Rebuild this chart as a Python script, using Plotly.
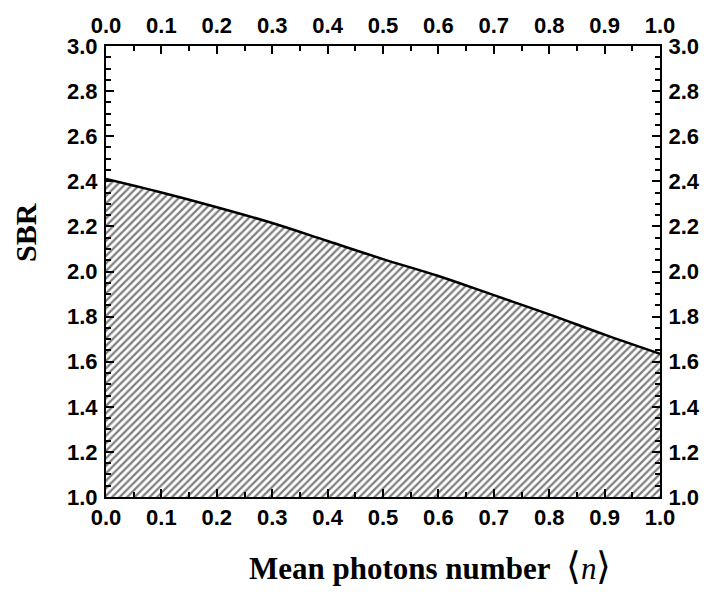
import plotly.graph_objects as go

# Data
mean_photons = [0.0, 0.1, 0.2, 0.3, 0.4, 0.5, 0.6, 0.7, 0.8, 0.9, 1.0]
sbr = [2.41, 2.35, 2.285, 2.215, 2.135, 2.055, 1.98, 1.895, 1.81, 1.72, 1.635]

x_ticks = [0.0, 0.1, 0.2, 0.3, 0.4, 0.5, 0.6, 0.7, 0.8, 0.9, 1.0]
x_ticklabels = ["0.0", "0.1", "0.2", "0.3", "0.4", "0.5", "0.6", "0.7", "0.8", "0.9", "1.0"]
y_ticks = [1.0, 1.2, 1.4, 1.6, 1.8, 2.0, 2.2, 2.4, 2.6, 2.8, 3.0]
y_ticklabels = ["1.0", "1.2", "1.4", "1.6", "1.8", "2.0", "2.2", "2.4", "2.6", "2.8", "3.0"]

x_title = ("<b>Mean photons number</b>  <span style='font-size:38px'>⟨</span>"
           "<i>n</i><span style='font-size:38px'>⟩</span>")
y_title = "<b>SBR</b>"

fig = go.Figure()
fig.add_trace(go.Scatter(
    x=mean_photons, y=sbr, mode="lines",
    line=dict(color="black", width=2.5, shape="spline"),
    fill="tozeroy", fillcolor="white",
    fillpattern=dict(shape="/", fgcolor="black", bgcolor="white", size=5.3, solidity=0.43),
    showlegend=False, hoverinfo="skip",
))
# invisible traces so the mirrored top/right axes are drawn
fig.add_trace(go.Scatter(x=[None], y=[None], xaxis="x2", yaxis="y2", mode="lines",
                         showlegend=False, hoverinfo="skip"))

tickfont = dict(family="Liberation Sans, Arial", size=22, color="black", weight="bold")
common_x = dict(range=[0, 1], tickvals=x_ticks, ticktext=x_ticklabels, ticks="inside",
                ticklen=8, tickwidth=2, tickcolor="black", showline=True, linecolor="black",
                linewidth=2, showgrid=False, zeroline=False, tickfont=tickfont, automargin=False,
                minor=dict(dtick=0.05, ticks="inside", ticklen=5, tickwidth=1.5, tickcolor="black", showgrid=False))
common_y = dict(range=[1, 3], tickvals=y_ticks, ticktext=y_ticklabels, ticks="inside",
                ticklen=8, tickwidth=2, tickcolor="black", showline=True, linecolor="black",
                linewidth=2, showgrid=False, zeroline=False, tickfont=tickfont, automargin=False,
                minor=dict(dtick=0.05, ticks="inside", ticklen=5, tickwidth=1.5, tickcolor="black", showgrid=False))

L, R, T, B = 98, 59, 38, 103
fig.update_layout(
    width=711, height=592,
    margin=dict(l=L, r=R, t=T, b=B),
    paper_bgcolor="white", plot_bgcolor="white",
    xaxis=dict(**common_x, side="bottom", ticklabelstandoff=0),
    xaxis2=dict(**common_x, side="top", overlaying="x", ticklabelstandoff=2),
    yaxis=dict(**common_y, side="left", ticklabelstandoff=2),
    yaxis2=dict(**common_y, side="right", overlaying="y", ticklabelstandoff=2),
    annotations=[
        dict(text=x_title, x=422, y=558, xref="paper", yref="paper", showarrow=False,
             xanchor="center", yanchor="middle",
             font=dict(family="Liberation Serif, Times New Roman", size=31, color="black")),
        dict(text=y_title, x=18, y=225, xref="paper", yref="paper", showarrow=False, textangle=-90,
             xanchor="center", yanchor="middle",
             font=dict(family="Liberation Serif, Times New Roman", size=30, color="black")),
    ],
)
# convert pixel positions of annotations to paper coords
pw, ph = 711 - L - R, 592 - T - B
for a in fig.layout.annotations:
    px, py = a.x, a.y
    a.x = (px - L) / pw
    a.y = 1 - (py - T) / ph

fig.write_html("out.html")
